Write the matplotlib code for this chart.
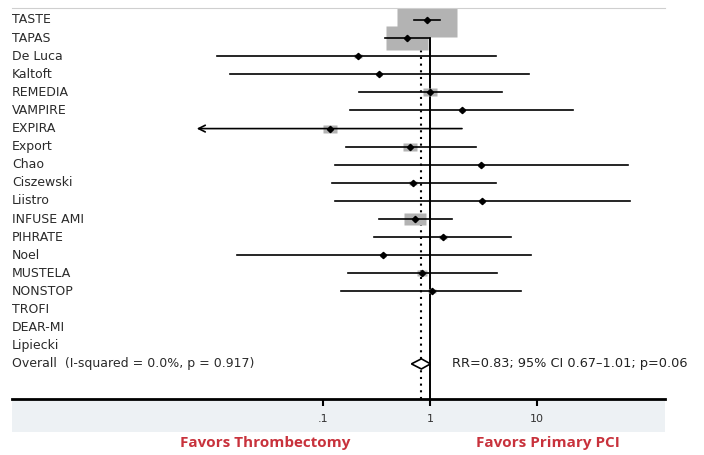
import numpy as np
import matplotlib.pyplot as plt
from matplotlib.path import Path
from matplotlib.patches import Polygon, Rectangle

# per-study relative risk, 95% CI and weight
studies = ['TASTE', 'TAPAS', 'De Luca', 'Kaltoft', 'REMEDIA', 'VAMPIRE', 'EXPIRA',
           'Export', 'Chao', 'Ciszewski', 'Liistro', 'INFUSE AMI', 'PIHRATE', 'Noel',
           'MUSTELA', 'NONSTOP', 'TROFI', 'DEAR-MI', 'Lipiecki']
rr = [0.93, 0.61, 0.21, 0.33, 0.99, 1.99, 0.115, 0.65, 3.0, 0.70, 3.06, 0.73,
      1.33, 0.36, 0.85, 1.05, np.nan, np.nan, np.nan]
lo = [0.71, 0.38, 0.0102, 0.0135, 0.217, 0.179, 0.004, 0.163, 0.128, 0.122, 0.128, 0.33,
      0.30, 0.0158, 0.17, 0.146, np.nan, np.nan, np.nan]
hi = [1.24, 1.00, 4.14, 8.36, 4.71, 21.8, 1.99, 2.67, 71.3, 4.14, 74.0, 1.6,
      5.68, 8.73, 4.2, 7.08, np.nan, np.nan, np.nan]
weight = [38.0, 18.0, 0.8, 0.5, 2.0, 0.5, 2.0, 2.0, 0.3, 0.6, 0.3, 5.5,
          0.8, 0.4, 0.9, 0.6, np.nan, np.nan, np.nan]

pooled_rr, pooled_lo, pooled_hi = 0.83, 0.67, 1.01
overall_label = 'Overall  (I-squared = 0.0%, p = 0.917)'
overall_text = 'RR=0.83; 95% CI 0.67\u20131.01; p=0.06'
xticks = [0.1, 1, 10]
xticklabels = ['.1', '1', '10']

W, H = 704, 455
fig = plt.figure(figsize=(W / 100, H / 100), dpi=100)

# light band under the axis
fig.patches.append(Rectangle((12 / W, (H - 432) / H), 653 / W, 33 / H,
                             transform=fig.transFigure, fc='#edf1f4', ec='none', zorder=-1))

ax = fig.add_axes([12 / W, (H - 399) / H, 653 / W, 391.5 / H])
ax.set_zorder(1)
ax.patch.set_alpha(0)
ax.set_xscale('log')
ax.set_xlim(10 ** -3.907, 10 ** 2.196)
ax.set_ylim(20.94, -0.69)

# weight boxes are drawn a little wider than tall
box = Path([(-1, -0.567), (1, -0.567), (1, 0.567), (-1, 0.567), (-1, -0.567)])
clip_lo = 0.0066  # left end of the plotted CI range (arrow beyond)

ax.axvline(1, color='black', lw=1.4, zorder=1)
ax.axvline(pooled_rr, color='black', lw=1.5, ls=(0, (1, 2.2)), zorder=1)

for i, name in enumerate(studies):
    ax.text(0.0, i, name, transform=ax.get_yaxis_transform(), ha='left', va='center',
            fontsize=9, color='#2a2a2a')
    if np.isnan(rr[i]):
        continue
    ms = 43.2 * np.sqrt(weight[i] / weight[0])
    ax.plot(rr[i], i, marker=box, ms=ms, mfc='#b3b3b3', mec='none', zorder=2)
for i in range(len(studies)):
    if np.isnan(rr[i]):
        continue
    if lo[i] < clip_lo:
        ax.annotate('', xy=(clip_lo, i), xytext=(hi[i], i),
                    arrowprops=dict(arrowstyle='->', lw=1.2, color='black',
                                    shrinkA=0, shrinkB=0, mutation_scale=12), zorder=4)
    else:
        ax.plot([lo[i], hi[i]], [i, i], color='black', lw=1.2, zorder=4)
    ax.plot(rr[i], i, marker='D', ms=3.2, color='black', zorder=5)

# pooled estimate
yo = len(studies)
ax.text(0.0, yo, overall_label, transform=ax.get_yaxis_transform(), ha='left',
        va='center', fontsize=9, color='#2a2a2a')
dh = 0.28
ax.add_patch(Polygon([(pooled_lo, yo), (pooled_rr, yo - dh), (pooled_hi, yo),
                      (pooled_rr, yo + dh)], closed=True, fc='white', ec='black',
                     lw=1.2, zorder=6))
ax.text(1.6, yo, overall_text, ha='left', va='center', fontsize=9.3, color='#222222')

for s in ['left', 'right']:
    ax.spines[s].set_visible(False)
ax.spines['top'].set_color('#cfcfcf')
ax.spines['top'].set_linewidth(0.8)
ax.spines['bottom'].set_linewidth(2.0)
ax.set_yticks([])
ax.set_xticks(xticks)
ax.set_xticklabels(xticklabels)
ax.minorticks_off()
ax.tick_params(axis='x', direction='out', length=5, width=1.5, pad=6,
               labelsize=8, labelcolor='#333333')

red = '#c8323c'
fig.text(265 / W, (H - 443) / H, 'Favors Thrombectomy', ha='center', va='center',
         fontsize=11, fontweight='bold', color=red, family='Open Sans')
fig.text(548 / W, (H - 443) / H, 'Favors Primary PCI', ha='center', va='center',
         fontsize=11, fontweight='bold', color=red, family='Open Sans')

fig.savefig('out.png', dpi=100)
